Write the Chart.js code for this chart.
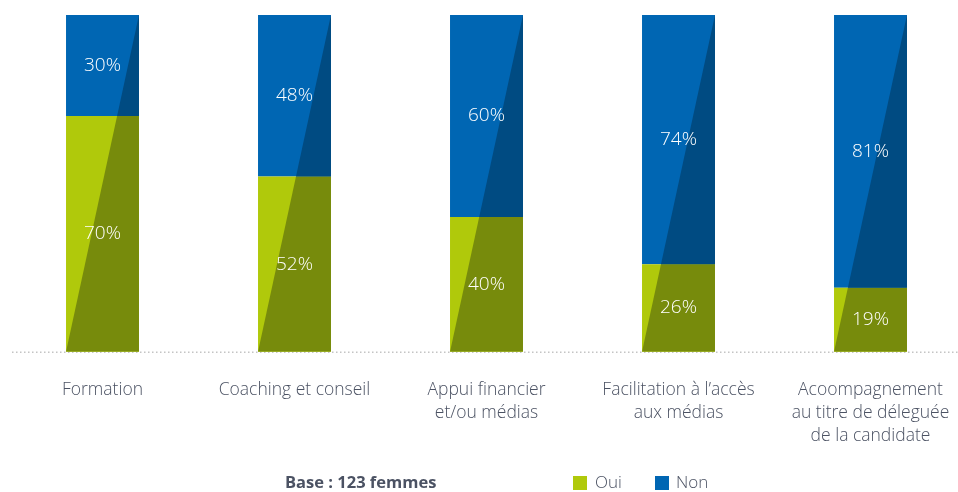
<!DOCTYPE html>
<html>
<head>
<meta charset="utf-8">
<script src="https://cdn.jsdelivr.net/npm/chart.js@4/dist/chart.umd.min.js"></script>
<style>
html,body{margin:0;padding:0;background:#fff;}
#wrap{width:958px;height:492px;position:relative;}
</style>
</head>
<body>
<div id="wrap"><canvas id="c" width="958" height="492"></canvas></div>
<script>
const categories = [
  ["Formation"],
  ["Coaching et conseil"],
  ["Appui financier", "et/ou médias"],
  ["Facilitation à l’accès", "aux médias"],
  ["Acoompagnement", "au titre de déleguée", "de la candidate"]
];
const ouiValues = [70, 52, 40, 26, 19];
const nonValues = [30, 48, 60, 74, 81];
const seriesNames = ["Oui", "Non"];
const baseNote = "Base : 123 femmes";

const LIGHT = ["#b0c90b", "#0066b3"];
const DARK = ["#778b0c", "#004b82"];
const TEXT = "#4b5263";
const FONT = "'Open Sans', sans-serif";

const shadePlugin = {
  id: 'shade',
  beforeDatasetsDraw(chart) {
    const ctx = chart.ctx;
    const y = chart.scales.y.getPixelForValue(0) + 0.5;
    ctx.save();
    ctx.strokeStyle = '#c4c4c4';
    ctx.lineWidth = 1.5;
    ctx.setLineDash([1.5, 2.5]);
    ctx.beginPath();
    ctx.moveTo(12, y);
    ctx.lineTo(958, y);
    ctx.stroke();
    ctx.restore();
  },
  afterDatasetsDraw(chart) {
    const ctx = chart.ctx;
    const ys = chart.scales.y;
    const yBot = ys.getPixelForValue(0);
    const yTop = ys.getPixelForValue(100);
    chart.data.datasets.forEach((ds, di) => {
      const meta = chart.getDatasetMeta(di);
      meta.data.forEach((bar) => {
        const l = bar.x - bar.width / 2, r = bar.x + bar.width / 2;
        const top = Math.min(bar.y, bar.base), bot = Math.max(bar.y, bar.base);
        ctx.save();
        ctx.beginPath();
        ctx.rect(l, top, r - l, bot - top);
        ctx.clip();
        ctx.fillStyle = DARK[di];
        ctx.beginPath();
        ctx.moveTo(l, yBot);
        ctx.lineTo(r, yTop);
        ctx.lineTo(r + 1, yTop);
        ctx.lineTo(r + 1, yBot);
        ctx.closePath();
        ctx.fill();
        ctx.restore();
      });
    });
    // value labels
    ctx.save();
    ctx.fillStyle = '#ffffff';
    ctx.font = "300 19px " + FONT;
    ctx.textAlign = 'center';
    ctx.textBaseline = 'middle';
    chart.data.datasets.forEach((ds, di) => {
      const meta = chart.getDatasetMeta(di);
      meta.data.forEach((bar, i) => {
        const cy = (bar.y + bar.base) / 2;
        ctx.fillText(ds.data[i] + '%', bar.x, cy);
      });
    });
    ctx.restore();
  },
  afterDraw(chart) {
    const ctx = chart.ctx;
    ctx.save();
    ctx.textBaseline = 'middle';
    ctx.fillStyle = TEXT;
    ctx.font = "bold 16.5px " + FONT;
    ctx.textAlign = 'left';
    ctx.fillText(baseNote, 285, 483);
    ctx.font = "300 17px " + FONT;
    const items = [[573, 595], [655, 676]];
    chart.data.datasets.forEach((ds, di) => {
      ctx.fillStyle = LIGHT[di];
      ctx.fillRect(items[di][0], 476, 14, 14);
      ctx.fillStyle = TEXT;
      ctx.fillText(ds.label, items[di][1], 483);
    });
    ctx.restore();
  }
};

new Chart(document.getElementById('c'), {
  type: 'bar',
  data: {
    labels: categories,
    datasets: [
      { label: seriesNames[0], data: ouiValues, backgroundColor: LIGHT[0], clip: false },
      { label: seriesNames[1], data: nonValues, backgroundColor: LIGHT[1], clip: false }
    ]
  },
  options: {
    responsive: false,
    animation: false,
    events: [],
    layout: { padding: { left: 102.5, right: 87.5, top: 15, bottom: 17 } },
    datasets: { bar: { categoryPercentage: 1, barPercentage: 0.38 } },
    plugins: { legend: { display: false }, tooltip: { enabled: false } },
    scales: {
      x: {
        stacked: true,
        offset: false,
        grid: { display: false, drawTicks: false },
        border: { display: false },
        afterFit(scale) { scale.paddingLeft = 0; scale.paddingRight = 0; },
        ticks: {
          color: TEXT,
          font: { family: FONT, size: 17.5, weight: 300, lineHeight: 1.32 },
          padding: 27,
          maxRotation: 0,
          autoSkip: false
        }
      },
      y: {
        stacked: true,
        display: false,
        min: 0,
        max: 100
      }
    }
  },
  plugins: [shadePlugin]
});
</script>
</body>
</html>
